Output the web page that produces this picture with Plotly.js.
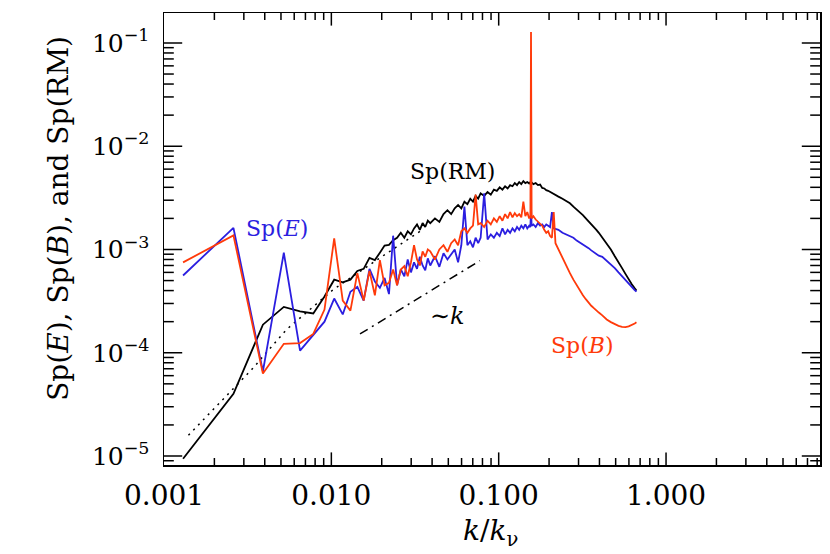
<!DOCTYPE html>
<html><head><meta charset="utf-8">
<script src="https://cdn.plot.ly/plotly-3.0.1.min.js"></script>
<style>html,body{margin:0;padding:0;background:#fff}#chart{width:830px;height:554px}</style>
</head><body><div id="chart"></div>
<script>
// wavenumber k/k_nu
const k = [0.0013,0.0026,0.0039,0.0052,0.0065,0.0078,0.0091,0.0104,0.0117,0.013,
0.0143,0.0156,0.0169,0.0182,0.0195,0.0208,0.0221,0.0234,0.0247,0.026,
0.0273,0.0286,0.0299,0.0312,0.0325,0.0338,0.0351,0.0364,0.0377,0.039,
0.0416,0.0442,0.0468,0.0494,0.052,0.0546,0.0572,0.0598,0.0624,0.065,0.0676,0.0702,0.0728,0.0754,0.078,
0.0819,0.0858,0.0897,0.0936,0.0975,0.1014,0.1053,0.1092,0.1131,0.117,0.1209,0.1248,0.1287,0.1326,0.1365,0.1404,0.1443,0.1482,0.1521,
0.1547,0.156,0.1573,
0.1612,0.1664,0.1716,0.1768,0.182,0.1872,0.1924,0.1976,0.2028,0.208,0.2132,0.2184,
0.2275,0.2405,0.2535,0.2665,0.2795,0.2925,0.3055,0.3185,0.3315,0.3445,0.3575,0.3705,0.3835,0.3965,
0.416,0.442,0.468,0.494,0.52,0.546,0.572,0.598,0.624,0.65,0.6656];

// Sp(RM)
const spRM = [9.4e-6,4.0e-5,1.87e-4,2.78e-4,2.52e-4,2.4e-4,3.5e-4,5.1e-4,4.8e-4,5.1e-4,
6.2e-4,6.5e-4,8.3e-4,7.9e-4,9.3e-4,1.09e-3,1.11e-3,1.23e-3,1.3e-3,1.45e-3,
1.3e-3,1.5e-3,1.4e-3,1.6e-3,1.75e-3,1.55e-3,1.8e-3,1.65e-3,1.9e-3,1.8e-3,
2.0e-3,1.85e-3,2.2e-3,2.4e-3,2.2e-3,2.5e-3,2.7e-3,2.5e-3,2.9e-3,2.75e-3,3.1e-3,2.9e-3,3.3e-3,3.1e-3,3.5e-3,
3.3e-3,3.6e-3,3.4e-3,3.8e-3,3.7e-3,4.0e-3,3.8e-3,4.1e-3,3.9e-3,4.2e-3,4.1e-3,4.4e-3,4.2e-3,4.5e-3,4.3e-3,4.6e-3,4.4e-3,4.5e-3,4.35e-3,
4.5e-3,4.4e-3,4.45e-3,
4.3e-3,4.4e-3,4.2e-3,4.25e-3,3.95e-3,3.9e-3,3.75e-3,3.7e-3,3.6e-3,3.55e-3,3.45e-3,3.35e-3,
3.25e-3,3.1e-3,2.95e-3,2.8e-3,2.6e-3,2.45e-3,2.3e-3,2.15e-3,2.0e-3,1.88e-3,1.75e-3,1.65e-3,1.55e-3,1.45e-3,
1.3e-3,1.15e-3,1.0e-3,8.6e-4,7.6e-4,6.6e-4,5.8e-4,5.1e-4,4.6e-4,4.2e-4,4.0e-4];

// Sp(E)
const spE = [5.6e-4,1.62e-3,6.6e-5,9.3e-4,1.05e-4,1.5e-4,2.0e-4,3.35e-4,2.35e-4,3.9e-4,
4.35e-4,3.2e-4,6.5e-4,4.9e-4,4.25e-4,5.3e-4,3.7e-4,1.36e-3,4.5e-4,6.4e-4,
5.5e-4,8.0e-4,6.0e-4,7.5e-4,6.5e-4,8.5e-4,7.0e-4,6.3e-4,8.2e-4,7.0e-4,
8.6e-4,6.8e-4,9.2e-4,8.0e-4,9.0e-4,1.0e-3,7.5e-4,1.1e-3,2.6e-3,1.1e-3,1.2e-3,1.05e-3,1.3e-3,1.15e-3,1.3e-3,
3.5e-3,1.25e-3,1.4e-3,1.3e-3,1.45e-3,1.35e-3,1.6e-3,1.4e-3,1.55e-3,1.45e-3,1.6e-3,1.5e-3,1.65e-3,1.55e-3,1.7e-3,1.6e-3,1.75e-3,1.6e-3,1.7e-3,
1.65e-3,2.6e-3,1.7e-3,
1.75e-3,1.65e-3,1.8e-3,1.7e-3,1.75e-3,1.65e-3,1.75e-3,1.7e-3,1.65e-3,2.3e-3,1.6e-3,1.58e-3,
1.55e-3,1.45e-3,1.4e-3,1.35e-3,1.3e-3,1.22e-3,1.17e-3,1.12e-3,1.07e-3,1.03e-3,9.8e-4,9.4e-4,9.0e-4,8.7e-4,
8.5e-4,7.8e-4,7.2e-4,6.6e-4,6.0e-4,5.5e-4,5.0e-4,4.6e-4,4.3e-4,4.05e-4,3.9e-4];

// Sp(B)
const spB = [7.5e-4,1.37e-3,6.3e-5,1.22e-4,1.24e-4,1.52e-4,2.62e-4,1.28e-3,3.2e-4,2.56e-4,
5.9e-4,3.2e-4,6.2e-4,3.6e-4,7.9e-4,4.5e-4,4.75e-4,6.4e-4,4.5e-4,6.4e-4,
6.9e-4,5.5e-4,7.5e-4,1.1e-3,8.0e-4,7.0e-4,9.6e-4,8.5e-4,1.0e-3,9.6e-4,
8.0e-4,1.0e-3,1.1e-3,9.5e-4,1.15e-3,1.25e-3,1.1e-3,1.5e-3,1.6e-3,1.45e-3,1.6e-3,1.7e-3,3.4e-3,1.75e-3,1.8e-3,
1.65e-3,1.9e-3,1.75e-3,2.0e-3,1.85e-3,2.1e-3,1.9e-3,2.2e-3,2.0e-3,2.3e-3,2.05e-3,2.25e-3,2.1e-3,2.2e-3,2.05e-3,2.9e-3,2.1e-3,2.3e-3,2.0e-3,
2.1e-3,0.128,2.0e-3,
2.1e-3,1.95e-3,1.85e-3,1.75e-3,1.7e-3,1.55e-3,1.45e-3,1.5e-3,1.35e-3,1.3e-3,2.3e-3,1.15e-3,
1.0e-3,8.2e-4,6.9e-4,5.9e-4,5.1e-4,4.5e-4,4.0e-4,3.6e-4,3.3e-4,3.05e-4,2.85e-4,2.7e-4,2.55e-4,2.45e-4,
2.3e-4,2.1e-4,1.98e-4,1.88e-4,1.82e-4,1.78e-4,1.77e-4,1.8e-4,1.85e-4,1.92e-4,1.97e-4];

// dotted reference curve
const fitK = [0.0014,0.00334,0.0054,0.01026,0.0209,0.0339];
const fitV = [1.59e-5,6.87e-5,1.68e-4,4.09e-4,8.93e-4,1.5e-3];
// ~k slope guide
const slopeK = [0.01483,0.0773];
const slopeV = [1.52e-4,7.8e-4];

// axis ticks
const xMajor = [0.001, 0.01, 0.1, 1];
const xMajorText = ['0.001', '0.010', '0.100', '1.000'];
const yMajor = [1e-5, 1e-4, 1e-3, 1e-2, 1e-1];
const yMajorText = ['10<sup>−5</sup>', '10<sup>−4</sup>', '10<sup>−3</sup>', '10<sup>−2</sup>', '10<sup>−1</sup>'];
const xMinor = [], yMinor = [];
[0.001, 0.01, 0.1, 1].forEach(d => { for (let m = 2; m <= 9; m++) xMinor.push(m * d); });
[1e-6, 1e-5, 1e-4, 1e-3, 1e-2, 1e-1].forEach(d => { for (let m = 2; m <= 9; m++) yMinor.push(m * d); });

const BLUE = '#2b1ee0', RED = '#ff3a0a', BLACK = '#000000';
const FONT = 'DejaVu Serif';
const XR = [-3, 0.92], YR = [-5.087, -0.71];

const traces = [
  {x: fitK, y: fitV, mode: 'lines', line: {color: BLACK, width: 1.5, dash: '2px,5px'}, hoverinfo: 'skip'},
  {x: slopeK, y: slopeV, mode: 'lines', line: {color: BLACK, width: 1.5, dash: '9px,5px,2px,5px'}, hoverinfo: 'skip'},
  {x: k, y: spRM, mode: 'lines', line: {color: BLACK, width: 1.8}},
  {x: k, y: spE, mode: 'lines', line: {color: BLUE, width: 1.8}},
  {x: k, y: spB, mode: 'lines', line: {color: RED, width: 1.8}}
];

// Inward tick marks: centred line markers on each frame edge, clipped to the plot area
const xEdges = [Math.pow(10, XR[0]), Math.pow(10, XR[1])];
const yEdges = [Math.pow(10, YR[0]), Math.pow(10, YR[1])];
const inRange = (v, r) => { const l = Math.log10(v); return l > r[0] + 0.002 && l < r[1] - 0.002; };
function tickTrace(xs, ys, symbol, len) {
  return {x: xs, y: ys, mode: 'markers', cliponaxis: true, hoverinfo: 'skip', showlegend: false,
    marker: {symbol: symbol, size: 2 * len, color: BLACK, line: {color: BLACK, width: 1.5}}};
}
[[xMajor, 9], [xMinor, 5]].forEach(([vals, len]) => {
  const xs = vals.filter(v => inRange(v, XR));
  yEdges.forEach(e => traces.push(tickTrace(xs, xs.map(() => e), 'line-ns', len)));
});
[[yMajor, 13], [yMinor, 7]].forEach(([vals, len]) => {
  const ys = vals.filter(v => inRange(v, YR));
  xEdges.forEach(e => traces.push(tickTrace(ys.map(() => e), ys, 'line-ew', len)));
});

const layout = {
  width: 830, height: 554,
  margin: {l: 164, r: 10, t: 13, b: 89},
  paper_bgcolor: '#fff', plot_bgcolor: '#fff',
  showlegend: false,
  font: {family: FONT, color: BLACK},
  xaxis: {
    type: 'log', range: XR, tickmode: 'array', tickvals: xMajor, ticktext: xMajorText, ticks: '',
    showgrid: false, zeroline: false, showline: true, linecolor: BLACK, linewidth: 1.5, mirror: true,
    tickfont: {family: FONT, size: 28, color: BLACK}, ticklabelstandoff: 5
  },
  yaxis: {
    type: 'log', range: YR, tickmode: 'array', tickvals: yMajor, ticktext: yMajorText, ticks: '',
    showgrid: false, zeroline: false, showline: true, linecolor: BLACK, linewidth: 1.5, mirror: true,
    tickfont: {family: FONT, size: 25, color: BLACK}, ticklabelstandoff: 8
  },
  annotations: [
    {text: 'Sp(RM)', x: 0.4405, y: 0.6487, font: {size: 22, color: BLACK, family: FONT}},
    {text: 'Sp(<i>E</i>)', x: 0.1723, y: 0.5225, font: {size: 22, color: BLUE, family: FONT}},
    {text: 'Sp(<i>B</i>)', x: 0.6387, y: 0.2634, font: {size: 22, color: RED, family: FONT}},
    {text: '∼<i>k</i>', x: 0.4329, y: 0.3299, font: {size: 24, color: BLACK, family: FONT}},
    {text: '<i>k</i>/<i>k</i><sub>ν</sub>', x: 0.497, y: -0.15, font: {size: 28, color: BLACK, family: FONT}},
    {text: 'Sp(<i>E</i>), Sp(<i>B</i>), and Sp(RM)', x: -0.1601, y: 0.5468, textangle: -90, font: {size: 28, color: BLACK, family: FONT}}
  ].map(a => Object.assign({xref: 'paper', yref: 'paper', xanchor: 'center', yanchor: 'middle', showarrow: false}, a))
};

Plotly.newPlot('chart', traces, layout, {displayModeBar: false, staticPlot: true});
</script>
</body></html>
